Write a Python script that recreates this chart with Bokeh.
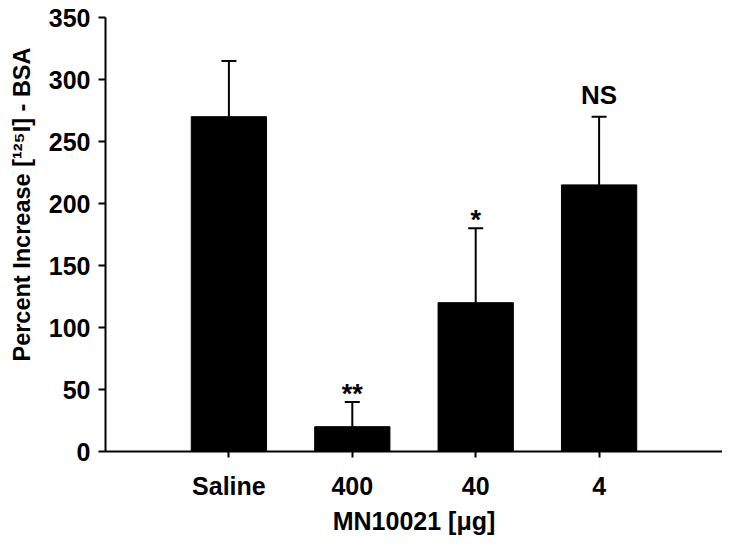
from bokeh.plotting import figure
from bokeh.models import ColumnDataSource, FactorRange, Whisker, TeeHead, Title
from bokeh.core.properties import value
from bokeh.embed import file_html
from bokeh.resources import INLINE

categories = ["Saline", "400", "40", "4"]
means = [270, 20, 120, 215]
errors = [45, 20, 60, 55]
marks = ["", "**", "*", "NS"]

x_title = "MN10021 [\u03bcg]"
y_title = "Percent Increase [\u00b9\u00b2\u2075I] - BSA"
y_ticks = [0, 50, 100, 150, 200, 250, 300, 350]

FONT = "Liberation Sans"

upper = [m + e for m, e in zip(means, errors)]
src = ColumnDataSource(dict(cat=categories, mean=means, upper=upper, mark=marks))

p = figure(width=722, height=539, output_backend="svg", toolbar_location=None,
           x_range=FactorRange(factors=categories, range_padding=0.5,
                               range_padding_units="absolute"),
           y_range=(0, 350),
           min_border_left=103, min_border_right=0, min_border_top=17, min_border_bottom=88)
p.outline_line_color = None
p.grid.visible = False
p.background_fill_color = "white"
p.border_fill_color = "white"

p.vbar(x="cat", top="mean", bottom=0, width=0.61, source=src,
       fill_color="black", line_color="black")

w = Whisker(base="cat", lower="mean", upper="upper", source=src,
            line_color="black", line_width=2,
            upper_head=TeeHead(size=15, line_color="black", line_width=2),
            lower_head=None)
p.add_layout(w)

star_src = ColumnDataSource(dict(cat=categories[1:3], upper=upper[1:3], mark=marks[1:3]))
ns_src = ColumnDataSource(dict(cat=categories[3:], upper=upper[3:], mark=marks[3:]))
p.text(x="cat", y="upper", text="mark", source=star_src, y_offset=-8,
       text_align="center", text_baseline="alphabetic",
       text_font=value(FONT), text_font_style="bold", text_font_size="27px",
       text_color="black")
p.text(x="cat", y="upper", text="mark", source=ns_src, y_offset=-22,
       text_align="center", text_baseline="alphabetic",
       text_font=value(FONT), text_font_style="bold", text_font_size="26px",
       text_color="black")

# y axis
p.yaxis.ticker = y_ticks
p.yaxis.axis_line_width = 2
p.yaxis.major_tick_line_width = 2
p.yaxis.major_tick_out = 7
p.yaxis.major_tick_in = 0
p.yaxis.minor_tick_line_color = None
p.yaxis.major_label_text_font = FONT
p.yaxis.major_label_text_font_style = "bold"
p.yaxis.major_label_text_font_size = "25px"
p.yaxis.major_label_text_color = "black"
p.yaxis.major_label_standoff = 8

# x axis
p.xaxis.axis_line_width = 2
p.xaxis.major_tick_line_width = 2
p.xaxis.major_tick_out = 6
p.xaxis.major_tick_in = 0
p.xaxis.major_label_text_font = FONT
p.xaxis.major_label_text_font_style = "bold"
p.xaxis.major_label_text_font_size = "25px"
p.xaxis.major_label_text_color = "black"
p.xaxis.major_label_standoff = 14
p.xaxis.axis_label = x_title
p.xaxis.axis_label_text_font = FONT
p.xaxis.axis_label_text_font_style = "bold"
p.xaxis.axis_label_text_font_size = "25px"
p.xaxis.axis_label_text_color = "black"
p.xaxis.axis_label_standoff = 4

ytitle = Title(text=y_title, align="right", offset=30, vertical_align="top",
               standoff=17, text_font=FONT, text_font_style="bold",
               text_font_size="23.5px", text_color="black")
p.add_layout(ytitle, "left")

open("out.html", "w").write(file_html(p, INLINE))
